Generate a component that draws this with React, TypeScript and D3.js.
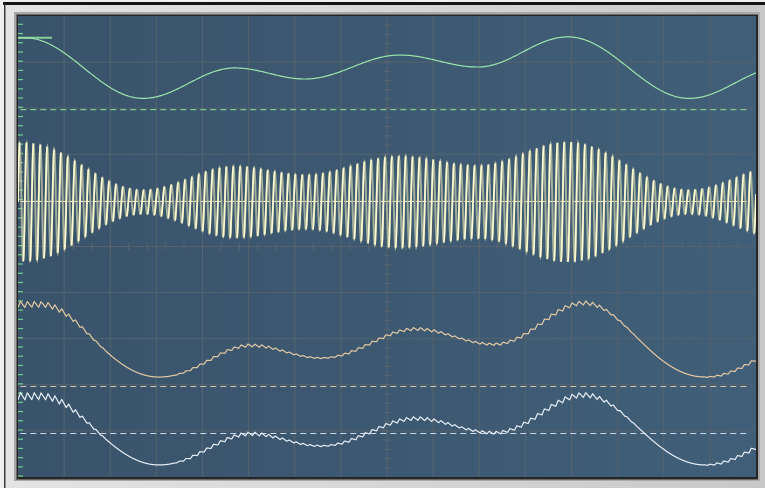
import React from "react";
import * as d3 from "d3";

const W = 765;
const H = 488;
const PLOT = { left: 18, right: 756, top: 16, bottom: 477 };

// axes: 16 time divisions (ms), 10 vertical divisions
const timeDomain: [number, number] = [0, 16];
const divDomain: [number, number] = [0, 10];

// channel 1 (modulating signal) extrema: time (ms), normalized level
const modTimes = [0.15, 2.71, 4.7, 6.22, 8.28, 9.97, 11.92, 14.55, 16.54];
const modLevels = [0.97, -1.0, -0.01, -0.37, 0.41, 0.02, 1.0, -1.0, 0.0];

// channel offsets / gains in divisions
const ch1Offset = 8.88;
const ch1Gain = 0.667;
const ch2Offset = 5.965;
const ch2Carrier = 0.78;
const ch2Depth = 0.52;
const carrierFreq = 6.69; // cycles per ms
const ch3Offset = 2.863;
const ch3Gain = 0.803;
const ch3Curve = 0.108;
const detectorDelay = 0.35; // ms
const ch4Offset = 0.944;
const ch4Gain = 0.759;
const ch4Curve = 0.076;
const ch4RippleScale = 1.2;

// demodulator ripple (peak-to-peak, divisions)
const rippleTimes = [0, 0.91, 1.56, 1.99, 3.3, 3.73, 5.03, 5.9, 6.76, 7.2, 8.72, 9.58, 10.45, 11.75, 12.4, 12.94, 13.49, 14.79, 15.22, 16];
const rippleAmps = [0.13, 0.11, 0.043, 0, 0, 0.043, 0.065, 0.033, 0.022, 0.054, 0.065, 0.033, 0.054, 0.087, 0.087, 0.043, 0, 0, 0.043, 0.065];

// reference (ground) markers per channel, divisions
const refLevels = [7.97, 5.976, 1.963, 0.944];
const refColors = ["#7cc894", "#ecebc4", "#d2c4ac", "#cfd9e4"];

function modAt(t: number): number {
  const n = modTimes.length;
  if (t <= modTimes[0]) return modLevels[0];
  if (t >= modTimes[n - 1]) return modLevels[n - 1];
  let i = 0;
  while (i < n - 2 && t > modTimes[i + 1]) i++;
  const f = (t - modTimes[i]) / (modTimes[i + 1] - modTimes[i]);
  const w = (1 - Math.cos(Math.PI * f)) / 2;
  return modLevels[i] + (modLevels[i + 1] - modLevels[i]) * w;
}

function saw(t: number): number {
  const p = ((t * carrierFreq) % 1 + 1) % 1;
  const rise = 0.35;
  const v = p < rise ? p / rise : 1 - (p - rise) / (1 - rise);
  return v - 0.5;
}

export default function App() {
  const x = d3.scaleLinear().domain(timeDomain).range([PLOT.left, PLOT.right]);
  const y = d3.scaleLinear().domain(divDomain).range([PLOT.bottom, PLOT.top]);
  const ripple = d3.scaleLinear().domain(rippleTimes).range(rippleAmps).clamp(true);

  type P = { t: number; v: number };
  const line = d3.line<P>().x((d) => x(d.t)).y((d) => y(d.v));

  const ts1 = d3.range(0, 16.0001, 0.02);
  const ch1 = ts1.map((t) => ({ t, v: ch1Offset + ch1Gain * modAt(t) }));

  const dt = 0.004;
  const tsF = d3.range(0, 16.0001, dt);
  const env = (t: number) => ch2Carrier + ch2Depth * modAt(t);
  const ch2 = tsF.map((t) => ({ t, v: ch2Offset + env(t) * Math.sin(2 * Math.PI * carrierFreq * t) }));

  // rising strokes of the carrier (drawn brighter)
  const period = 1 / carrierFreq;
  let risePath = "";
  for (let k = -1; k * period < 16; k++) {
    const t0 = Math.max(0, (k - 0.25) * period);
    const t1 = Math.min(16, (k + 0.25) * period);
    if (t1 <= t0) continue;
    const seg = d3.range(t0, t1 + 1e-9, dt).concat([t1]).map((t) => ({
      t,
      v: ch2Offset + env(t) * Math.sin(2 * Math.PI * carrierFreq * t),
    }));
    risePath += line(seg) || "";
  }

  const ch3 = tsF.map((t) => {
    const m = modAt(t - detectorDelay);
    return { t, v: ch3Offset + ch3Gain * m + ch3Curve * m * m + ripple(t) * saw(t) };
  });
  const ch4 = tsF.map((t) => {
    const m = modAt(t - detectorDelay);
    return { t, v: ch4Offset + ch4Gain * m + ch4Curve * m * m + ch4RippleScale * ripple(t) * saw(t) };
  });

  const gridT = d3.range(1, 16, 1);
  const gridV = d3.range(1, 10, 1);
  const axisTicksT = d3.range(0.4, 16, 0.4);
  const axisTicksV = d3.range(0.2, 10, 0.2);
  const edgeTicks = d3.range(0.02, 10, 0.2);

  const pw = PLOT.right - PLOT.left;
  const ph = PLOT.bottom - PLOT.top;

  return (
    <svg width={W} height={H} style={{ position: "absolute", left: 0, top: 0 }}>
      <defs>
        <linearGradient id="bg" x1="0" x2="1" y1="0" y2="0">
          <stop offset="0" stopColor="#39536a" />
          <stop offset="1" stopColor="#415f78" />
        </linearGradient>
        <linearGradient id="frameL" x1="0" x2="1" y1="0" y2="0">
          <stop offset="0" stopColor="#e4e4e4" />
          <stop offset="1" stopColor="#c8c8c8" />
        </linearGradient>
        <clipPath id="clip">
          <rect x={PLOT.left} y={PLOT.top} width={pw} height={ph} />
        </clipPath>
      </defs>
      {/* frame */}
      <rect x={0} y={0} width={W} height={H} fill="#efefef" />
      <rect x={4} y={3} width={W - 4} height={H - 3} fill="url(#frameL)" />
      <rect x={3} y={2} width={W - 3} height={3} fill="#141414" />
      <rect x={4} y={4} width={1.5} height={H - 4} fill="#3a3a3a" />
      <rect x={14} y={12} width={746} height={469} fill="#a8a8a8" />
      <rect x={16} y={14} width={742} height={466} fill="#6a6a6a" />
      <rect x={17} y={15} width={741} height={464} fill="#262626" />
      <rect x={PLOT.left} y={PLOT.top} width={pw} height={ph} fill="url(#bg)" />

      <g clipPath="url(#clip)">
        {/* grid */}
        {gridT.map((t) => (
          <line key={"gt" + t} x1={x(t)} x2={x(t)} y1={PLOT.top} y2={PLOT.bottom} stroke="#56636e" strokeWidth={1} />
        ))}
        {gridV.map((v) => (
          <line key={"gv" + v} x1={PLOT.left} x2={PLOT.right} y1={y(v)} y2={y(v)} stroke="#56636e" strokeWidth={1} />
        ))}
        {axisTicksT.map((t) => (
          <line key={"at" + t} x1={x(t)} x2={x(t)} y1={y(5) - 3.5} y2={y(5) + 3.5} stroke="#5c6670" strokeWidth={1} />
        ))}
        {axisTicksV.map((v) => (
          <line key={"av" + v} x1={x(8) - 3.5} x2={x(8) + 3.5} y1={y(v)} y2={y(v)} stroke="#5c6670" strokeWidth={1} />
        ))}
        {edgeTicks.map((v) => (
          <line key={"et" + v} x1={PLOT.left} x2={PLOT.left + 5} y1={y(v)} y2={y(v)} stroke="#72cf8c" strokeWidth={1.2} />
        ))}

        {/* reference markers */}
        {refLevels.map((v, i) => (
          <line
            key={"ref" + i}
            x1={x(0.05)}
            x2={x(15.8)}
            y1={y(v)}
            y2={y(v)}
            stroke={refColors[i]}
            strokeWidth={1.2}
            strokeDasharray={i === 1 ? "10,2" : "6,4"}
          />
        ))}

        {/* channel 1 */}
        <line x1={x(0)} x2={x(0.74)} y1={y(ch1[0].v)} y2={y(ch1[0].v)} stroke="#86cf98" strokeWidth={2} />
        <path d={line(ch1) || ""} fill="none" stroke="#9be3ad" strokeWidth={1.2} />

        {/* channel 2 */}
        <path d={line(ch2) || ""} fill="none" stroke="#b4bda2" strokeWidth={2} opacity={0.85} />
        <path d={risePath} fill="none" stroke="#fbfad0" strokeWidth={1.7} />

        {/* channel 3 */}
        <path d={line(ch3) || ""} fill="none" stroke="#e2c9a4" strokeWidth={1.2} />
        {/* channel 4 */}
        <path d={line(ch4) || ""} fill="none" stroke="#e6eef6" strokeWidth={1.2} />
      </g>
    </svg>
  );
}
